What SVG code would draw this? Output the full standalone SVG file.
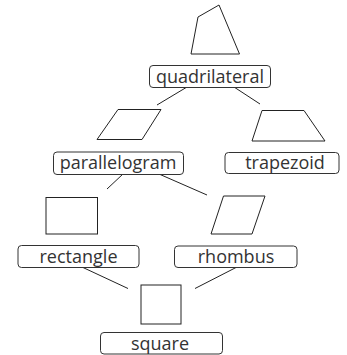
<svg xmlns="http://www.w3.org/2000/svg" width="347" height="355" viewBox="0 0 347 355">
<style>
.box{fill:#fff;stroke:#333;stroke-width:1}
.shape{fill:#fff;stroke:#222;stroke-width:1}
.lbl{font-family:"Open Sans","Noto Sans",sans-serif;font-size:18px;fill:#333;text-anchor:middle}
.edge{stroke:#222;stroke-width:1;fill:none}
</style>
<rect width="347" height="355" fill="#fff"/>
<g id="connectors">
<line class="edge" x1="187" y1="87" x2="157" y2="105"/>
<line class="edge" x1="234" y1="87" x2="260" y2="104"/>
<line class="edge" x1="123" y1="174" x2="107" y2="189"/>
<line class="edge" x1="159" y1="174" x2="207" y2="195"/>
<line class="edge" x1="83" y1="267.5" x2="128" y2="288.5"/>
<line class="edge" x1="236" y1="267.5" x2="195" y2="288.5"/>
</g>
<g id="quadrilateral">
<polygon class="shape" points="198,17 219,5 239.5,54 191,54"/>
<rect class="box" x="149.5" y="65.5" width="121" height="22" rx="3.5"/>
<text class="lbl" x="210" y="82.8">quadrilateral</text>
</g>
<g id="parallelogram">
<polygon class="shape" points="118,109.5 161,109.5 142,139.5 97,139.5"/>
<rect class="box" x="53.5" y="152" width="130" height="22.5" rx="3.5"/>
<text class="lbl" x="118" y="169.2">parallelogram</text>
</g>
<g id="trapezoid">
<polygon class="shape" points="262,110.5 304,110.5 325,141 252,141"/>
<rect class="box" x="225" y="152.5" width="114" height="21" rx="3.5"/>
<text class="lbl" x="285" y="169">trapezoid</text>
</g>
<g id="rectangle">
<rect class="shape" x="46" y="197.5" width="51.5" height="36.5"/>
<rect class="box" x="18" y="245.5" width="121" height="22" rx="3.5"/>
<text class="lbl" x="78.5" y="262.8">rectangle</text>
</g>
<g id="rhombus">
<polygon class="shape" points="223.5,196 265,196 252,234 211,234"/>
<rect class="box" x="174.5" y="246" width="122.5" height="21.5" rx="3.5"/>
<text class="lbl" x="236" y="263">rhombus</text>
</g>
<g id="square">
<rect class="shape" x="141" y="285" width="40" height="39"/>
<rect class="box" x="100.5" y="332.5" width="122" height="21.5" rx="3.5"/>
<text class="lbl" x="160" y="349.5">square</text>
</g>
</svg>
